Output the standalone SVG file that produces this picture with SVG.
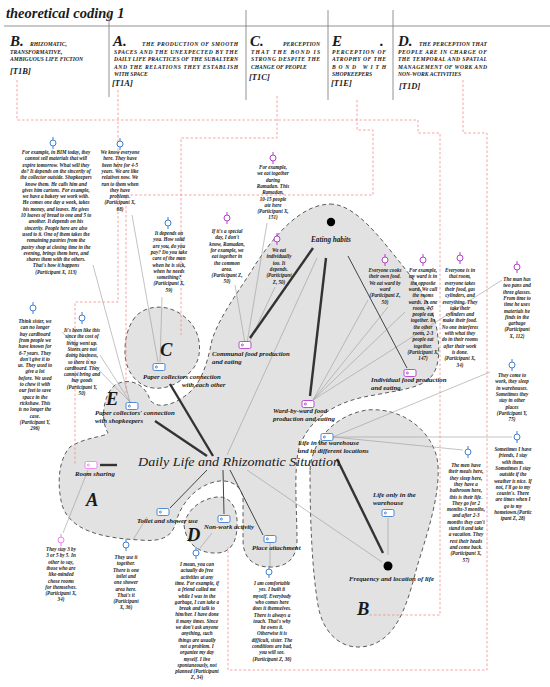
<svg xmlns="http://www.w3.org/2000/svg" width="550" height="687" viewBox="0 0 550 687">
<style>
text{font-family:"Liberation Serif",serif;fill:#1a1a1a}
.title{font-style:italic;font-weight:bold;font-size:14.5px}
.L{font-style:italic;font-weight:bold;font-size:15px}
.h{font-style:italic;font-weight:bold;font-size:5.6px}
.cd{font-style:italic;font-weight:bold;font-size:8.5px}
.q{font-style:italic;font-weight:bold;font-size:5.1px;text-anchor:middle}
.lb{font-style:italic;font-weight:bold;font-size:6.8px}
.R{font-style:italic;font-weight:bold;font-size:18.5px}
.hub{font-style:italic;font-size:12.5px}
.rg{fill:#e2e2e2;stroke:#4a4a4a;stroke-width:0.9;stroke-dasharray:4 3}
.pk{fill:none;stroke:#f58a8a;stroke-width:0.8;stroke-dasharray:2.5 2}
.gl{stroke:#777;stroke-width:0.8}
.th{stroke:#333;stroke-width:2.4}
.tn{stroke:#9a9a9a;stroke-width:0.6}
.md{stroke:#444;stroke-width:1}
.blue{stroke:#3f7fd0}
.mag{stroke:#b43fc8}
.pink{stroke:#f27ff2}
</style>
<defs>
<g id="qm" fill="none" stroke-width="1"><line x1="0" y1="-6" x2="0" y2="6"/><circle r="3" fill="#fff"/></g>
<g id="tag" stroke-width="0.9"><rect x="-6" y="-3.5" width="12" height="7" rx="1.5" fill="#fff"/><circle cx="-2.6" cy="0" r="1" fill="none"/></g>
</defs>

<!-- header -->
<g id="header">
<text class="title" x="6" y="18">theoretical coding 1</text>
<line class="gl" x1="4" y1="26" x2="550" y2="26"/>
<line class="gl" x1="109" y1="10" x2="109" y2="97"/>
<line class="gl" x1="246" y1="10" x2="246" y2="100"/>
<line class="gl" x1="328" y1="10" x2="328" y2="100"/>
<line class="gl" x1="393" y1="10" x2="393" y2="100"/>
</g>
<g id="hB">
<text class="L" x="10" y="46">B.</text>
<text class="h" x="30" y="46">RHIZOMATIC,</text>
<text class="h" x="10" y="54">TRANSFORMATIVE,</text>
<text class="h" x="10" y="61">AMBIGUOUS LIFE FICTION</text>
<text class="cd" x="10" y="74">[T1B]</text>
</g>
<g id="hA">
<text class="L" x="113" y="46">A.</text>
<text class="h" x="142" y="46" textLength="96" lengthAdjust="spacing">THE PRODUCTION OF SMOOTH</text>
<text class="h" x="114" y="54" textLength="124" lengthAdjust="spacing">SPACES AND THE UNEXPECTED BY THE</text>
<text class="h" x="114" y="61" textLength="124" lengthAdjust="spacing">DAILY LIFE PRACTICES OF THE SUBALTERN</text>
<text class="h" x="114" y="69" textLength="124" lengthAdjust="spacing">AND THE RELATIONS THEY ESTABLISH</text>
<text class="h" x="114" y="76">WITH SPACE</text>
<text class="cd" x="112" y="86">[T1A]</text>
</g>
<g id="hC">
<text class="L" x="250" y="46">C.</text>
<text class="h" x="283" y="46" textLength="37" lengthAdjust="spacing">PERCEPTION</text>
<text class="h" x="251" y="54" textLength="69" lengthAdjust="spacing">THAT THE BOND IS</text>
<text class="h" x="251" y="61" textLength="69" lengthAdjust="spacing">STRONG DESPITE THE</text>
<text class="h" x="251" y="69">CHANGE OF PEOPLE</text>
<text class="cd" x="249" y="80">[T1C]</text>
</g>
<g id="hE">
<text class="L" x="332" y="46">E</text>
<text class="L" x="380" y="46">.</text>
<text class="h" x="332" y="54" textLength="54" lengthAdjust="spacing">PERCEPTION OF</text>
<text class="h" x="332" y="61" textLength="54" lengthAdjust="spacing">ATROPHY OF THE</text>
<text class="h" x="332" y="69" textLength="54" lengthAdjust="spacing">BOND WITH</text>
<text class="h" x="332" y="76">SHOPKEEPERS</text>
<text class="cd" x="331" y="86">[T1E]</text>
</g>
<g id="hD">
<text class="L" x="398" y="46">D.</text>
<text class="h" x="419" y="46" textLength="68" lengthAdjust="spacing">THE PERCEPTION THAT</text>
<text class="h" x="398" y="54" textLength="89" lengthAdjust="spacing">PEOPLE ARE IN CHARGE OF</text>
<text class="h" x="398" y="61" textLength="89" lengthAdjust="spacing">THE TEMPORAL AND SPATIAL</text>
<text class="h" x="398" y="69" textLength="89" lengthAdjust="spacing">MANAGEMENT OF WORK AND</text>
<text class="h" x="398" y="76">NON-WORK ACTIVITIES</text>
<text class="cd" x="399" y="89">[T1D]</text>
</g>

<!-- regions -->
<g id="regions">
<path id="regMain" class="rg" d="M330,204 C350,204 370,225 390,250 C410,275 432,300 437,330 C440,350 440,368 430,378 C420,388 400,390 375,395 C340,400 312,415 300,445 C293,465 297,510 297,540 C297,560 285,568 268,567 C250,566 243,555 243,540 L243,500 C243,487 232,480 220,481 C200,483 182,500 176,522 C172,538 160,542 140,540 C100,538 70,530 62,505 C57,485 58,460 70,447 C85,437 105,437 108,433 C100,420 103,395 115,385 C128,377 145,383 150,400 C158,410 175,405 190,392 C203,380 208,360 212,340 C220,315 240,290 255,265 C275,235 300,205 330,204 Z"/>
<path id="regC" class="rg" d="M133,320 C142,305 170,300 190,322 C200,333 203,352 195,366 C185,380 170,390 153,388 C135,386 124,368 125,350 C125,338 128,328 133,320 Z"/>
<path id="regB" class="rg" d="M310,470 C312,440 335,415 367,410 C400,407 430,428 437,458 C443,490 425,540 417,567 C408,600 398,645 360,647 C338,648 322,630 318,605 C312,570 310,520 310,470 Z"/>
<path id="regD" class="rg" d="M184,525 C186,545 200,554 218,553 C232,552 238,540 237,520 C236,504 228,496 217,497 C200,499 187,510 184,525 Z"/>
</g>

<!-- pink dashed guides -->
<g id="guides">
<path class="pk" d="M17,80 V120 H418 V133 H440 V615 H368"/>
<path class="pk" d="M118,90 V302 H75 V465"/>
<path class="pk" d="M277,96 V138 H181 V335"/>
<path class="pk" d="M357,100 V130 H373 V195 H126 V395"/>
<path class="pk" d="M463,80 V133 H487 V670 H228 V547"/>
</g>

<!-- connectors -->
<g id="connectors">
<line class="tn" x1="93" y1="265" x2="130" y2="402"/>
<line class="tn" x1="62" y1="332" x2="130" y2="402"/>
<line class="tn" x1="100" y1="355" x2="130" y2="402"/>
<line class="tn" x1="132" y1="215" x2="158" y2="362"/>
<line class="tn" x1="162" y1="297" x2="160" y2="362"/>
<line class="tn" x1="235" y1="285" x2="245" y2="343"/>
<line class="tn" x1="267" y1="223" x2="247" y2="343"/>
<line class="tn" x1="275" y1="287" x2="249" y2="343"/>
<line class="tn" x1="368" y1="300" x2="313" y2="400"/>
<line class="tn" x1="388" y1="307" x2="313" y2="400"/>
<line class="tn" x1="405" y1="312" x2="313" y2="400"/>
<line class="tn" x1="502" y1="280" x2="313" y2="400"/>
<line class="md" x1="348" y1="256" x2="407" y2="368"/>
<line class="tn" x1="317" y1="258" x2="227" y2="455"/>
<line class="tn" x1="333" y1="437" x2="490" y2="372"/>
<line class="tn" x1="333" y1="437" x2="512" y2="437"/>
<line class="tn" x1="333" y1="437" x2="463" y2="450"/>
<line class="tn" x1="88" y1="470" x2="63" y2="533"/>
<line class="tn" x1="147" y1="517" x2="133" y2="540"/>
<line class="tn" x1="212" y1="533" x2="200" y2="548"/>
<line class="tn" x1="270" y1="543" x2="270" y2="566"/>
<line class="tn" x1="388" y1="518" x2="388" y2="555"/>
<line class="tn" x1="247" y1="470" x2="382" y2="562"/>
<line class="th" x1="250" y1="338" x2="313" y2="248"/>
<line class="th" x1="326" y1="258" x2="310" y2="396"/>
<line class="th" x1="170" y1="384" x2="213" y2="456"/>
<line class="th" x1="155" y1="421" x2="207" y2="456"/>
<line class="th" x1="100" y1="465" x2="117" y2="465"/>
<line class="th" x1="337" y1="459" x2="383" y2="553"/>
<line class="md" x1="207" y1="470" x2="170" y2="508"/>
<line class="md" x1="223" y1="470" x2="224" y2="514"/>
<line class="md" x1="230" y1="470" x2="263" y2="535"/>
</g>

<!-- concept nodes -->
<g id="n-eating"><circle cx="331" cy="222" r="4.2" fill="#000"/><text class="lb" x="311" y="242" style="font-size:7.2px">Eating habits</text></g>
<g id="n-communal"><use href="#tag" class="mag" x="245" y="345"/><text class="lb" x="212" y="356">Communal food production</text><text class="lb" x="212" y="364">and eating</text></g>
<g id="n-paperC"><use href="#tag" class="blue" x="159" y="367"/><text class="lb" x="143" y="379">Paper collectors connection</text><text class="lb" x="182" y="387">with each other</text></g>
<g id="n-paperE"><use href="#tag" class="blue" x="132" y="406"/><text class="lb" x="95" y="415">Paper collectors' connection</text><text class="lb" x="95" y="423">with shopkeepers</text></g>
<g id="n-ward"><use href="#tag" class="mag" x="308" y="404"/><text class="lb" x="273" y="413">Ward-by-ward food</text><text class="lb" x="273" y="421">production and eating</text></g>
<g id="n-indiv"><use href="#tag" class="mag" x="410" y="373"/><text class="lb" x="371" y="382">Individual food production</text><text class="lb" x="371" y="390">and eating</text></g>
<g id="n-lifewh"><use href="#tag" class="blue" x="327" y="437"/><text class="lb" x="298" y="445">Life in the warehouse</text><text class="lb" x="298" y="453">and in different locations</text></g>
<g id="n-hub"><text class="hub" x="138" y="466" textLength="202" lengthAdjust="spacingAndGlyphs">Daily Life and Rhizomatic Situation</text></g>
<g id="n-room"><use href="#tag" class="pink" x="91" y="465"/><text class="lb" x="75" y="476">Room sharing</text></g>
<g id="n-toilet"><use href="#tag" class="blue" x="163" y="512"/><text class="lb" x="137" y="523">Toilet and shower use</text></g>
<g id="n-nonwork"><use href="#tag" class="blue" x="224" y="519"/><text class="lb" x="204" y="529">Non-work activity</text></g>
<g id="n-place"><use href="#tag" class="blue" x="270" y="539"/><text class="lb" x="252" y="550">Place attachment</text></g>
<g id="n-lifeonly"><use href="#tag" class="blue" x="388" y="513"/><text class="lb" x="373" y="497">Life only in the</text><text class="lb" x="373" y="505">warehouse</text></g>
<g id="n-freq"><circle cx="388" cy="566" r="4.5" fill="#000"/><text class="lb" x="349" y="581">Frequency and location of life</text></g>

<!-- region letters -->
<g id="letters">
<text class="R" x="160" y="356">C</text>
<text class="R" x="106" y="405">E</text>
<text class="R" x="86" y="506">A</text>
<text class="R" x="187" y="541">D</text>
<text class="R" x="357" y="615">B</text>
</g>

<!-- quotes -->
<g id="q1"><use href="#qm" class="blue" x="53" y="143"/><text class="q" x="56" y="154"><tspan x="56" dy="0">For example, in BIM today, they</tspan><tspan x="56" dy="6.3">cannot sell materials that will</tspan><tspan x="56" dy="6.3">expire tomorrow. What will they</tspan><tspan x="56" dy="6.3">do? It depends on the sincerity of</tspan><tspan x="56" dy="6.3">the collector outside. Shopkeepers</tspan><tspan x="56" dy="6.3">know them. He calls him and</tspan><tspan x="56" dy="6.3">gives him cartons. For example,</tspan><tspan x="56" dy="6.3">we have a bakery we work with.</tspan><tspan x="56" dy="6.3">He comes one day a week, takes</tspan><tspan x="56" dy="6.3">his money, and leaves. He gives</tspan><tspan x="56" dy="6.3">10 loaves of bread to one and 5 to</tspan><tspan x="56" dy="6.3">another. It depends on his</tspan><tspan x="56" dy="6.3">sincerity. People here are also</tspan><tspan x="56" dy="6.3">used to it. One of them takes the</tspan><tspan x="56" dy="6.3">remaining pastries from the</tspan><tspan x="56" dy="6.3">pastry shop at closing time in the</tspan><tspan x="56" dy="6.3">evening, brings them here, and</tspan><tspan x="56" dy="6.3">shares them with the others.</tspan><tspan x="56" dy="6.3">That's how it happens</tspan><tspan x="56" dy="6.3">(Participant X, 113)</tspan></text></g>
<g id="q2"><use href="#qm" class="blue" x="120" y="144"/><text class="q" x="120" y="154"><tspan x="120" dy="0">We know everyone</tspan><tspan x="120" dy="6.3">here. They have</tspan><tspan x="120" dy="6.3">been here for 4-5</tspan><tspan x="120" dy="6.3">years. We are like</tspan><tspan x="120" dy="6.3">relatives now. We</tspan><tspan x="120" dy="6.3">run to them when</tspan><tspan x="120" dy="6.3">they have</tspan><tspan x="120" dy="6.3">problems.</tspan><tspan x="120" dy="6.3">(Participant X,</tspan><tspan x="120" dy="6.3">68)</tspan></text></g>
<g id="q3"><use href="#qm" class="blue" x="33" y="308"/><text class="q" x="35" y="323"><tspan x="35" dy="0">Think sister, we</tspan><tspan x="35" dy="6.3">can no longer</tspan><tspan x="35" dy="6.3">buy cardboard</tspan><tspan x="35" dy="6.3">from people we</tspan><tspan x="35" dy="6.3">have known for</tspan><tspan x="35" dy="6.3">6-7 years. They</tspan><tspan x="35" dy="6.3">don't give it to</tspan><tspan x="35" dy="6.3">us. They used to</tspan><tspan x="35" dy="6.3">give a lot</tspan><tspan x="35" dy="6.3">before. We used</tspan><tspan x="35" dy="6.3">to chew it with</tspan><tspan x="35" dy="6.3">our feet to save</tspan><tspan x="35" dy="6.3">space in the</tspan><tspan x="35" dy="6.3">rickshaw. This</tspan><tspan x="35" dy="6.3">is no longer the</tspan><tspan x="35" dy="6.3">case.</tspan><tspan x="35" dy="6.3">(Participant Y,</tspan><tspan x="35" dy="6.3">296)</tspan></text></g>
<g id="q4"><use href="#qm" class="blue" x="82" y="318"/><text class="q" x="82" y="332"><tspan x="82" dy="0">It's been like this</tspan><tspan x="82" dy="6.3">since the cost of</tspan><tspan x="82" dy="6.3">living went up.</tspan><tspan x="82" dy="6.3">Stores are not</tspan><tspan x="82" dy="6.3">doing business,</tspan><tspan x="82" dy="6.3">so there is no</tspan><tspan x="82" dy="6.3">cardboard. They</tspan><tspan x="82" dy="6.3">cannot bring and</tspan><tspan x="82" dy="6.3">buy goods</tspan><tspan x="82" dy="6.3">(Participant Y,</tspan><tspan x="82" dy="6.3">50)</tspan></text></g>
<g id="q5"><use href="#qm" class="blue" x="168" y="223"/><text class="q" x="169" y="235"><tspan x="169" dy="0">It depends on</tspan><tspan x="169" dy="6.3">you. How solid</tspan><tspan x="169" dy="6.3">are you, do you</tspan><tspan x="169" dy="6.3">pay? Do you take</tspan><tspan x="169" dy="6.3">care of the man</tspan><tspan x="169" dy="6.3">when he is sick,</tspan><tspan x="169" dy="6.3">when he needs</tspan><tspan x="169" dy="6.3">something?</tspan><tspan x="169" dy="6.3">(Participant X,</tspan><tspan x="169" dy="6.3">59)</tspan></text></g>
<g id="q6"><use href="#qm" class="mag" x="227" y="218"/><text class="q" x="227" y="233"><tspan x="227" dy="0">If it's a special</tspan><tspan x="227" dy="6.3">day, I don't</tspan><tspan x="227" dy="6.3">know, Ramadan,</tspan><tspan x="227" dy="6.3">for example, we</tspan><tspan x="227" dy="6.3">eat together in</tspan><tspan x="227" dy="6.3">the common</tspan><tspan x="227" dy="6.3">area.</tspan><tspan x="227" dy="6.3">(Participant Z,</tspan><tspan x="227" dy="6.3">50)</tspan></text></g>
<g id="q7"><use href="#qm" class="mag" x="273" y="158"/><text class="q" x="273" y="169"><tspan x="273" dy="0">For example,</tspan><tspan x="273" dy="6.3">we eat together</tspan><tspan x="273" dy="6.3">during</tspan><tspan x="273" dy="6.3">Ramadan. This</tspan><tspan x="273" dy="6.3">Ramadan,</tspan><tspan x="273" dy="6.3">10-15 people</tspan><tspan x="273" dy="6.3">ate here</tspan><tspan x="273" dy="6.3">(Participant X,</tspan><tspan x="273" dy="6.3">151)</tspan></text></g>
<g id="q8"><use href="#qm" class="mag" x="277" y="239"/><text class="q" x="279" y="252"><tspan x="279" dy="0">We eat</tspan><tspan x="279" dy="6.3">individually</tspan><tspan x="279" dy="6.3">too. It</tspan><tspan x="279" dy="6.3">depends.</tspan><tspan x="279" dy="6.3">(Participant</tspan><tspan x="279" dy="6.3">Z, 50)</tspan></text></g>
<g id="q9"><use href="#qm" class="mag" x="385" y="260"/><text class="q" x="385" y="272"><tspan x="385" dy="0">Everyone cooks</tspan><tspan x="385" dy="6.3">their own food.</tspan><tspan x="385" dy="6.3">We eat ward by</tspan><tspan x="385" dy="6.3">ward</tspan><tspan x="385" dy="6.3">(Participant Z,</tspan><tspan x="385" dy="6.3">50)</tspan></text></g>
<g id="q10"><use href="#qm" class="mag" x="423" y="260"/><text class="q" x="423" y="272"><tspan x="423" dy="0">For example,</tspan><tspan x="423" dy="6.3">my ward is in</tspan><tspan x="423" dy="6.3">the opposite</tspan><tspan x="423" dy="6.3">ward. We call</tspan><tspan x="423" dy="6.3">the rooms</tspan><tspan x="423" dy="6.3">wards. In one</tspan><tspan x="423" dy="6.3">room, 4-5</tspan><tspan x="423" dy="6.3">people eat</tspan><tspan x="423" dy="6.3">together. In</tspan><tspan x="423" dy="6.3">the other</tspan><tspan x="423" dy="6.3">room, 2-3</tspan><tspan x="423" dy="6.3">people eat</tspan><tspan x="423" dy="6.3">together.</tspan><tspan x="423" dy="6.3">(Participant X,</tspan><tspan x="423" dy="6.3">147)</tspan></text></g>
<g id="q11"><use href="#qm" class="mag" x="460" y="258"/><text class="q" x="460" y="272"><tspan x="460" dy="0">Everyone is in</tspan><tspan x="460" dy="6.3">that room,</tspan><tspan x="460" dy="6.3">everyone takes</tspan><tspan x="460" dy="6.3">their food, gas</tspan><tspan x="460" dy="6.3">cylinders, and</tspan><tspan x="460" dy="6.3">everything. They</tspan><tspan x="460" dy="6.3">take their</tspan><tspan x="460" dy="6.3">cylinders and</tspan><tspan x="460" dy="6.3">make their food.</tspan><tspan x="460" dy="6.3">No one interferes</tspan><tspan x="460" dy="6.3">with what they</tspan><tspan x="460" dy="6.3">do in their rooms</tspan><tspan x="460" dy="6.3">after their work</tspan><tspan x="460" dy="6.3">is done.</tspan><tspan x="460" dy="6.3">(Participant X,</tspan><tspan x="460" dy="6.3">34)</tspan></text></g>
<g id="q12"><use href="#qm" class="mag" x="517" y="267"/><text class="q" x="517" y="281"><tspan x="517" dy="0">The man has</tspan><tspan x="517" dy="6.3">two pans and</tspan><tspan x="517" dy="6.3">three glasses.</tspan><tspan x="517" dy="6.3">From time to</tspan><tspan x="517" dy="6.3">time he uses</tspan><tspan x="517" dy="6.3">materials he</tspan><tspan x="517" dy="6.3">finds in the</tspan><tspan x="517" dy="6.3">garbage</tspan><tspan x="517" dy="6.3">(Participant</tspan><tspan x="517" dy="6.3">X, 112)</tspan></text></g>
<g id="q13"><use href="#qm" class="blue" x="512" y="365"/><text class="q" x="512" y="377"><tspan x="512" dy="0">They come to</tspan><tspan x="512" dy="6.3">work, they sleep</tspan><tspan x="512" dy="6.3">in warehouses.</tspan><tspan x="512" dy="6.3">Sometimes they</tspan><tspan x="512" dy="6.3">stay in other</tspan><tspan x="512" dy="6.3">places</tspan><tspan x="512" dy="6.3">(Participant Y,</tspan><tspan x="512" dy="6.3">75)</tspan></text></g>
<g id="q14"><use href="#qm" class="blue" x="517" y="437"/><text class="q" x="513" y="451"><tspan x="513" dy="0">Sometimes I have</tspan><tspan x="513" dy="6.3">friends, I stay</tspan><tspan x="513" dy="6.3">with them.</tspan><tspan x="513" dy="6.3">Sometimes I stay</tspan><tspan x="513" dy="6.3">outside if the</tspan><tspan x="513" dy="6.3">weather is nice. If</tspan><tspan x="513" dy="6.3">not, I'll go to my</tspan><tspan x="513" dy="6.3">cousin's. There</tspan><tspan x="513" dy="6.3">are times when I</tspan><tspan x="513" dy="6.3">go to my</tspan><tspan x="513" dy="6.3">hometown.(Partic</tspan><tspan x="513" dy="6.3">ipant Z, 28)</tspan></text></g>
<g id="q15"><use href="#qm" class="blue" x="468" y="452"/><text class="q" x="466" y="467"><tspan x="466" dy="0">The men have</tspan><tspan x="466" dy="6.3">their meals here,</tspan><tspan x="466" dy="6.3">they sleep here,</tspan><tspan x="466" dy="6.3">they have a</tspan><tspan x="466" dy="6.3">bathroom here,</tspan><tspan x="466" dy="6.3">this is their life.</tspan><tspan x="466" dy="6.3">They go for 2</tspan><tspan x="466" dy="6.3">months-3 months,</tspan><tspan x="466" dy="6.3">and after 2-3</tspan><tspan x="466" dy="6.3">months they can't</tspan><tspan x="466" dy="6.3">stand it and take</tspan><tspan x="466" dy="6.3">a vacation. They</tspan><tspan x="466" dy="6.3">rest their heads</tspan><tspan x="466" dy="6.3">and come back.</tspan><tspan x="466" dy="6.3">(Participant X,</tspan><tspan x="466" dy="6.3">57)</tspan></text></g>
<g id="q16"><use href="#qm" class="pink" x="61" y="540"/><text class="q" x="61" y="551"><tspan x="61" dy="0">They stay 3 by</tspan><tspan x="61" dy="6.3">3 or 5 by 5. In</tspan><tspan x="61" dy="6.3">other to say,</tspan><tspan x="61" dy="6.3">those who are</tspan><tspan x="61" dy="6.3">like-minded</tspan><tspan x="61" dy="6.3">chose rooms</tspan><tspan x="61" dy="6.3">for themselves.</tspan><tspan x="61" dy="6.3">(Participant X,</tspan><tspan x="61" dy="6.3">34)</tspan></text></g>
<g id="q17"><use href="#qm" class="blue" x="126" y="545"/><text class="q" x="126" y="559"><tspan x="126" dy="0">They use it</tspan><tspan x="126" dy="6.3">together.</tspan><tspan x="126" dy="6.3">There is one</tspan><tspan x="126" dy="6.3">toilet and</tspan><tspan x="126" dy="6.3">one shower</tspan><tspan x="126" dy="6.3">area here.</tspan><tspan x="126" dy="6.3">That's it</tspan><tspan x="126" dy="6.3">(Participant</tspan><tspan x="126" dy="6.3">X, 36)</tspan></text></g>
<g id="q18"><use href="#qm" class="blue" x="196" y="553"/><text class="q" x="197" y="566"><tspan x="197" dy="0">I mean, you can</tspan><tspan x="197" dy="6.3">actually do free</tspan><tspan x="197" dy="6.3">activities at any</tspan><tspan x="197" dy="6.3">time. For example, if</tspan><tspan x="197" dy="6.3">a friend called me</tspan><tspan x="197" dy="6.3">while I was in the</tspan><tspan x="197" dy="6.3">garbage, I can take a</tspan><tspan x="197" dy="6.3">break and talk to</tspan><tspan x="197" dy="6.3">him/her. I have done</tspan><tspan x="197" dy="6.3">it many times. Since</tspan><tspan x="197" dy="6.3">we don't ask anyone</tspan><tspan x="197" dy="6.3">anything, such</tspan><tspan x="197" dy="6.3">things are usually</tspan><tspan x="197" dy="6.3">not a problem. I</tspan><tspan x="197" dy="6.3">organize my day</tspan><tspan x="197" dy="6.3">myself. I live</tspan><tspan x="197" dy="6.3">spontaneously, not</tspan><tspan x="197" dy="6.3">planned (Participant</tspan><tspan x="197" dy="6.3">Z, 34)</tspan></text></g>
<g id="q19"><use href="#qm" class="blue" x="269" y="572"/><text class="q" x="272" y="585"><tspan x="272" dy="0">I am comfortable</tspan><tspan x="272" dy="6.3">yes. I built it</tspan><tspan x="272" dy="6.3">myself. Everybody</tspan><tspan x="272" dy="6.3">who comes here</tspan><tspan x="272" dy="6.3">does it themselves.</tspan><tspan x="272" dy="6.3">There is always a</tspan><tspan x="272" dy="6.3">touch. That's why</tspan><tspan x="272" dy="6.3">he owns it.</tspan><tspan x="272" dy="6.3">Otherwise it is</tspan><tspan x="272" dy="6.3">difficult, sister. The</tspan><tspan x="272" dy="6.3">conditions are bad,</tspan><tspan x="272" dy="6.3">you will see.</tspan><tspan x="272" dy="6.3">(Participant Z, 36)</tspan></text></g>
</svg>
